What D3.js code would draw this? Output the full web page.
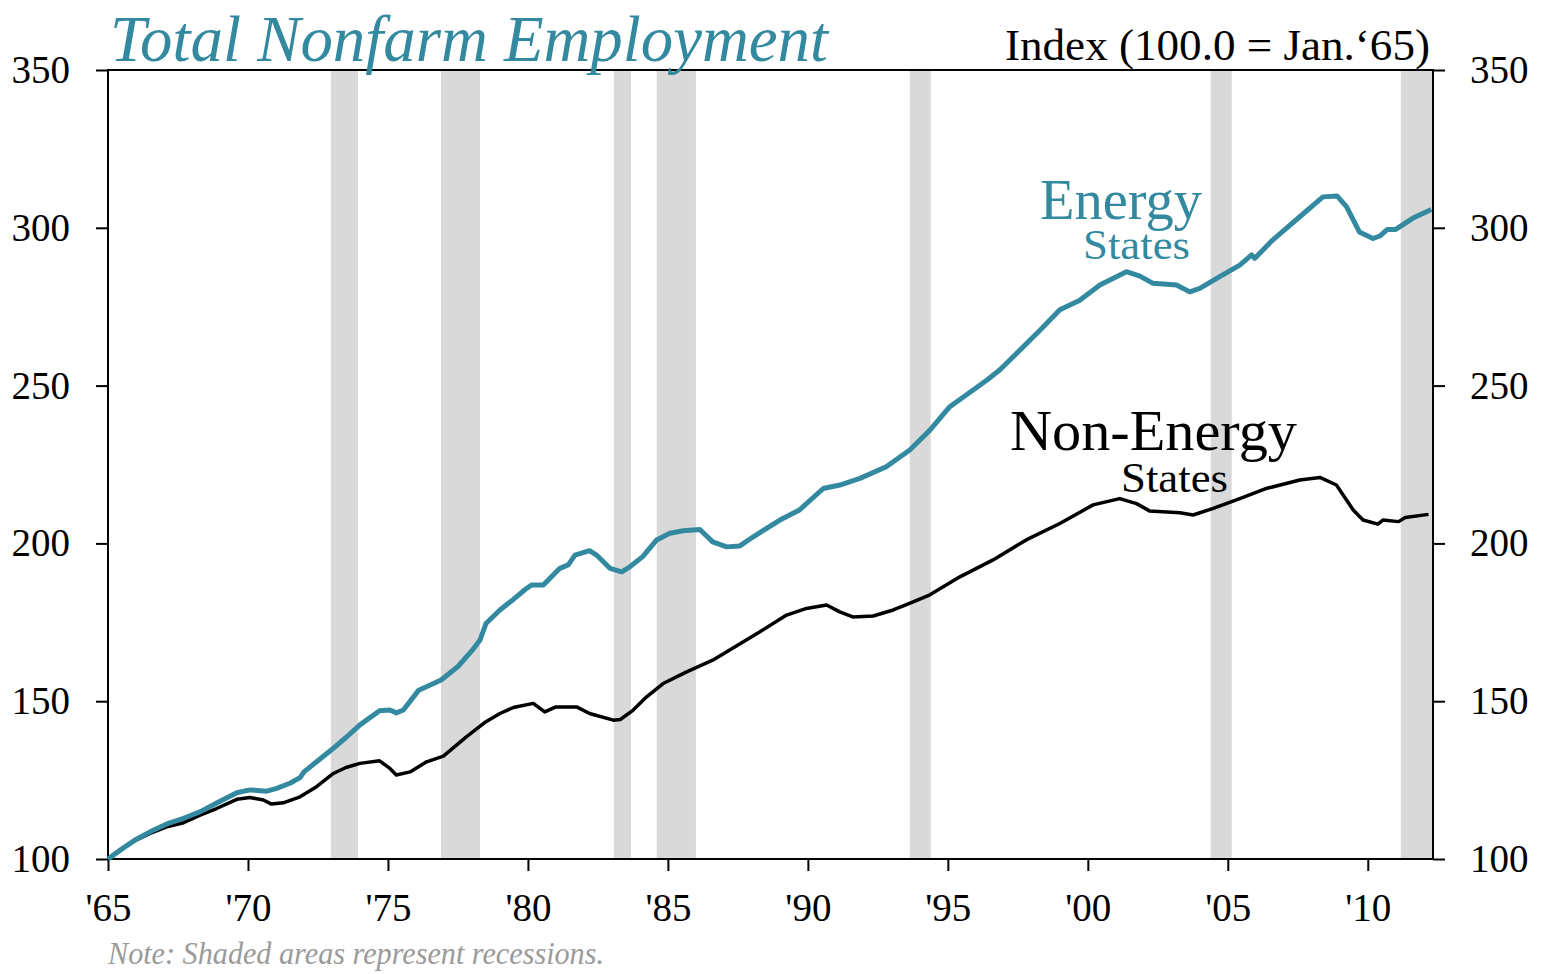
<!DOCTYPE html>
<html>
<head>
<meta charset="utf-8">
<script src="https://cdn.jsdelivr.net/npm/d3@7"></script>
<style>
  body { margin: 0; background: #fff; }
  text { font-family: "Liberation Serif", "Times New Roman", serif; }
</style>
</head>
<body>
<div class="chart"></div>
<script>
// Data (decimal years, index 100 = Jan 1965)
var energyYears = [1965.0, 1965.5, 1966.0, 1966.5, 1967.1, 1967.7, 1968.3, 1968.9, 1969.6, 1970.07,
  1970.67, 1971.0, 1971.5, 1971.86, 1972.0, 1972.45, 1973.05, 1973.5, 1974.0, 1974.7,
  1975.07, 1975.3, 1975.55, 1976.1, 1976.9, 1977.5, 1978.0, 1978.29, 1978.5, 1979.0,
  1979.5, 1979.9, 1980.13, 1980.55, 1981.14, 1981.44, 1981.68, 1982.2, 1982.45, 1982.93,
  1983.35, 1983.64, 1984.1, 1984.6, 1985.07, 1985.55, 1986.14, 1986.6, 1987.1, 1987.57,
  1988.05, 1989.0, 1989.7, 1990.55, 1991.14, 1991.86, 1992.8, 1993.64, 1994.36, 1995.07,
  1996.4, 1996.86, 1998.3, 1999.0, 1999.7, 2000.43, 2001.38, 2001.86, 2002.33, 2003.17,
  2003.64, 2004.0, 2004.71, 2005.43, 2005.85, 2005.96, 2006.6, 2007.57, 2008.4, 2008.9,
  2009.24, 2009.7, 2010.19, 2010.43, 2010.7, 2011.0, 2011.6, 2012.27];
var energyValues = [100, 103.2, 106.2, 108.6, 111.1, 112.9, 115, 117.8, 121, 121.9,
  121.5, 122.3, 124, 125.8, 127.6, 130.8, 135.1, 138.5, 142.5, 147,
  147.2, 146.3, 147.2, 153.5, 156.7, 161, 166, 169.4, 174.6, 178.9,
  182.4, 185.4, 186.8, 186.8, 192.1, 193.2, 196.3, 197.7, 196.3, 192.1,
  191, 192.6, 195.8, 201.1, 203.2, 204, 204.4, 200.5, 198.9, 199.2,
  202.1, 207.4, 210.6, 217.4, 218.5, 220.6, 224.3, 229.6, 235.9, 243.3,
  251.8, 255, 267.6, 274, 277, 281.9, 286.1, 284.7, 282.4, 281.9,
  279.7, 280.8, 284.5, 288.2, 291.4, 290.3, 296.1, 303.5, 309.8, 310.1,
  306.7, 298.7, 296.6, 297.4, 299.5, 299.5, 303, 305.8];

var nonEnergyYears = [1965.0, 1965.5, 1966.0, 1966.5, 1967.1, 1967.7, 1968.29, 1968.88, 1969.6, 1970.07,
  1970.55, 1970.84, 1971.26, 1971.86, 1972.45, 1973.05, 1973.5, 1974.0, 1974.7, 1975.07,
  1975.3, 1975.79, 1976.38, 1976.98, 1977.8, 1978.5, 1979.0, 1979.48, 1980.19, 1980.6,
  1981.0, 1981.74, 1982.2, 1983.05, 1983.3, 1983.76, 1984.24, 1984.83, 1985.67, 1986.6,
  1987.8, 1988.29, 1989.24, 1989.95, 1990.67, 1991.14, 1991.6, 1992.33, 1993.05, 1993.76,
  1994.36, 1995.43, 1996.6, 1997.8, 1999.0, 2000.19, 2001.14, 2001.74, 2002.2, 2003.29,
  2003.76, 2004.48, 2005.43, 2006.38, 2007.57, 2008.29, 2008.88, 2009.48, 2009.83, 2010.36,
  2010.54, 2011.1, 2011.34, 2012.17];
var nonEnergyValues = [100, 103.3, 106, 108.1, 110.2, 111.5, 113.9, 116, 118.9, 119.5,
  118.7, 117.4, 117.8, 119.7, 122.9, 127.1, 129, 130.3, 131.1, 128.7,
  126.6, 127.6, 130.8, 132.6, 138.7, 143.5, 146.1, 148, 149.3, 146.6,
  148.2, 148.2, 146.1, 144, 144.2, 147.2, 151.4, 155.6, 159.3, 163,
  169.4, 172, 177.3, 179.4, 180.5, 178.3, 176.7, 177, 178.9, 181.5,
  183.7, 189.4, 194.7, 201.1, 206.3, 212.2, 214.2, 212.6, 210.3, 209.7,
  209, 211.1, 214.2, 217.4, 220.1, 220.9, 218.5, 210.6, 207.4, 206.1,
  207.4, 206.9, 208.2, 209.2];

// Shaded periods
var recessionStarts = [1972.96, 1976.89, 1983.07, 1984.6, 1993.64, 2004.39, 2011.18];
var recessionEnds   = [1973.93, 1978.29, 1983.68, 1986.0, 1994.39, 2005.14, 2012.33];

// Ticks
var xTickYears = [1965, 1970, 1975, 1980, 1985, 1990, 1995, 2000, 2005, 2010];
var xTickLabels = ["'65", "'70", "'75", "'80", "'85", "'90", "'95", "'00", "'05", "'10"];
var yTicks = [100, 150, 200, 250, 300, 350];

var teal = "#338aa0";

var svgWidth = 1543, svgHeight = 974;
var margin = { top: 70, right: 110, bottom: 115, left: 108 };
var chartWidth = svgWidth - margin.left - margin.right;
var chartHeight = svgHeight - margin.top - margin.bottom;

var svg = d3.select(".chart").append("svg")
  .attr("width", svgWidth)
  .attr("height", svgHeight);

var chart = svg.append("g")
  .attr("transform", "translate(" + margin.left + "," + margin.top + ")");

var x = d3.scaleLinear().domain([1965, 2012.33]).range([0, chartWidth]);
var y = d3.scaleLinear().domain([100, 350]).range([chartHeight, 0]);

// Shaded bands
chart.selectAll("rect.band")
  .data(recessionStarts)
  .enter().append("rect")
  .attr("class", "band")
  .attr("x", function(d) { return x(d); })
  .attr("width", function(d, i) { return x(recessionEnds[i]) - x(d); })
  .attr("y", 0)
  .attr("height", chartHeight)
  .attr("fill", "#d9d9d9");

// Axes
function styleAxis(g) {
  g.select(".domain").remove();
  g.selectAll(".tick line").attr("stroke", "#000").attr("stroke-width", 2);
  g.selectAll(".tick text")
    .attr("fill", "#000")
    .style("font-size", "39px")
    .style("font-family", "'Liberation Serif', serif");
}

chart.append("g")
  .call(d3.axisLeft(y).tickValues(yTicks).tickSize(12).tickPadding(26))
  .call(styleAxis);

chart.append("g")
  .attr("transform", "translate(" + chartWidth + ",0)")
  .call(d3.axisRight(y).tickValues(yTicks).tickSize(12).tickPadding(25))
  .call(styleAxis);

chart.append("g")
  .attr("transform", "translate(0," + chartHeight + ")")
  .call(d3.axisBottom(x).tickValues(xTickYears).tickSize(12).tickPadding(22)
    .tickFormat(function(d, i) { return xTickLabels[i]; }))
  .call(styleAxis);

// Frame
chart.append("rect")
  .attr("x", 0).attr("y", 0)
  .attr("width", chartWidth).attr("height", chartHeight)
  .attr("fill", "none")
  .attr("stroke", "#000")
  .attr("stroke-width", 2);

// Lines
var line = d3.line()
  .x(function(d) { return x(d[0]); })
  .y(function(d) { return y(d[1]); });

chart.append("path")
  .datum(d3.zip(nonEnergyYears, nonEnergyValues))
  .attr("d", line)
  .attr("fill", "none")
  .attr("stroke", "#000")
  .attr("stroke-width", 3.5)
  .attr("stroke-linejoin", "round");

chart.append("path")
  .datum(d3.zip(energyYears, energyValues))
  .attr("d", line)
  .attr("fill", "none")
  .attr("stroke", teal)
  .attr("stroke-width", 5)
  .attr("stroke-linejoin", "round");

// Series labels
svg.append("text").attr("x", 1040).attr("y", 219)
  .attr("fill", teal).style("font-size", "56px")
  .attr("textLength", 162).attr("lengthAdjust", "spacingAndGlyphs").text("Energy");
svg.append("text").attr("x", 1083).attr("y", 259)
  .attr("fill", teal).style("font-size", "42px")
  .attr("textLength", 107).attr("lengthAdjust", "spacingAndGlyphs").text("States");
svg.append("text").attr("x", 1010).attr("y", 450)
  .attr("fill", "#000").style("font-size", "56px")
  .attr("textLength", 287).attr("lengthAdjust", "spacingAndGlyphs").text("Non-Energy");
svg.append("text").attr("x", 1121).attr("y", 492)
  .attr("fill", "#000").style("font-size", "42px")
  .attr("textLength", 107).attr("lengthAdjust", "spacingAndGlyphs").text("States");

// Title and notes
svg.append("text").attr("x", 110).attr("y", 61)
  .attr("fill", teal).style("font-size", "66px").style("font-style", "italic")
  .attr("textLength", 718).attr("lengthAdjust", "spacingAndGlyphs")
  .text("Total Nonfarm Employment");

svg.append("text").attr("x", 1005).attr("y", 60)
  .attr("fill", "#000").style("font-size", "44px")
  .attr("textLength", 425).attr("lengthAdjust", "spacingAndGlyphs")
  .text("Index (100.0 = Jan.\u201865)");

svg.append("text").attr("x", 108).attr("y", 964)
  .attr("fill", "#9a9a9a").style("font-size", "32px").style("font-style", "italic")
  .attr("textLength", 496).attr("lengthAdjust", "spacingAndGlyphs")
  .text("Note: Shaded areas represent recessions.");
</script>
</body>
</html>
